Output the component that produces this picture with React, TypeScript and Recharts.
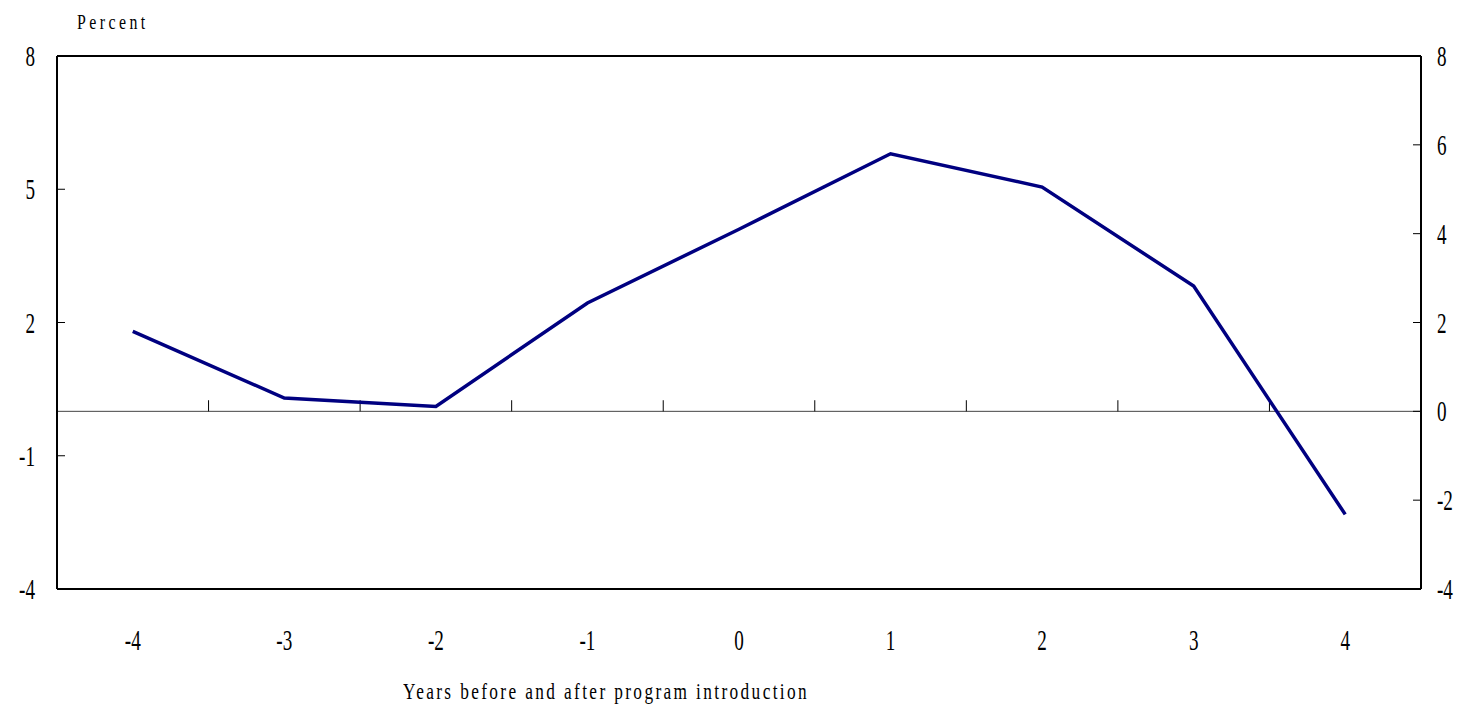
import {
  LineChart,
  Line,
  XAxis,
  YAxis,
  ReferenceLine,
} from "recharts";

// Years relative to program introduction
const years = [-4, -3, -2, -1, 0, 1, 2, 3, 4];
// Percent change
const percent = [1.8, 0.3, 0.11, 2.44, 4.1, 5.8, 5.05, 2.82, -2.32];
const leftTicks = [-4, -1, 2, 5, 8];
const rightTicks = [-4, -2, 0, 2, 4, 6, 8];
// category boundaries, marked on the zero line
const boundaries = [-3.5, -2.5, -1.5, -0.5, 0.5, 1.5, 2.5, 3.5];

const data = years.map((y, i) => ({ year: y, value: percent[i] }));

const FONT = "'Liberation Serif', 'DejaVu Serif', serif";

const AxisText = ({
  x,
  y,
  payload,
  anchor,
  dy,
}: {
  x?: number;
  y?: number;
  payload?: { value: number };
  anchor: "start" | "middle" | "end";
  dy: number;
}) => (
  <g transform={`translate(${x},${(y ?? 0) + dy}) scale(0.66,1)`}>
    <text
      x={0}
      y={0}
      textAnchor={anchor}
      fontFamily={FONT}
      fontSize={29}
      fill="#000"
    >
      {payload?.value}
    </text>
  </g>
);

export default function App() {
  return (
    <div
      style={{
        position: "absolute",
        left: 0,
        top: 0,
        width: 1459,
        height: 716,
        background: "#fff",
      }}
    >
      <LineChart
        width={1459}
        height={716}
        data={data}
        margin={{ top: 56, right: 0, bottom: 0, left: 0 }}
      >
        <XAxis
          dataKey="year"
          type="number"
          domain={[-4.5, 4.5]}
          ticks={years}
          height={127}
          axisLine={{ stroke: "#000", strokeWidth: 2 }}
          tickLine={false}
          tickSize={0}
          tickMargin={0}
          tick={<AxisText anchor="middle" dy={61} />}
        />
        <YAxis
          yAxisId="left"
          orientation="left"
          width={57}
          domain={[-4, 8]}
          ticks={leftTicks}
          allowDataOverflow
          axisLine={{ stroke: "#000", strokeWidth: 2 }}
          tickLine={{ stroke: "#000" }}
          tickSize={-8}
          tickMargin={30}
          tick={<AxisText anchor="end" dy={10} />}
        />
        <YAxis
          yAxisId="right"
          orientation="right"
          width={38}
          domain={[-4, 8]}
          ticks={rightTicks}
          allowDataOverflow
          axisLine={{ stroke: "#000", strokeWidth: 2 }}
          tickLine={{ stroke: "#000" }}
          tickSize={-8}
          tickMargin={24}
          tick={<AxisText anchor="start" dy={10} />}
        />
        <ReferenceLine yAxisId="left" y={8} stroke="#000" strokeWidth={2} />
        <ReferenceLine yAxisId="left" y={0} stroke="#444" strokeWidth={1} />
        {boundaries.map((b) => (
          <ReferenceLine
            key={b}
            yAxisId="left"
            segment={[
              { x: b, y: 0 },
              { x: b, y: 0.25 },
            ]}
            stroke="#000"
            strokeWidth={1}
          />
        ))}
        <Line
          yAxisId="left"
          type="linear"
          dataKey="value"
          stroke="#000080"
          strokeWidth={3.5}
          dot={false}
          activeDot={false}
          isAnimationActive={false}
        />
      </LineChart>
      <div
        style={{
          position: "absolute",
          left: 77,
          top: 11,
          fontFamily: FONT,
          fontSize: 22,
          letterSpacing: 4.8,
          transform: "scaleX(0.72)",
          transformOrigin: "left top",
          whiteSpace: "nowrap",
          lineHeight: 1,
        }}
      >
        Percent
      </div>
      <div
        style={{
          position: "absolute",
          left: 403,
          top: 679,
          fontFamily: FONT,
          fontSize: 24,
          letterSpacing: 3.3,
          transform: "scaleX(0.72)",
          transformOrigin: "left top",
          whiteSpace: "nowrap",
          lineHeight: 1,
        }}
      >
        Years before and after program introduction
      </div>
    </div>
  );
}
